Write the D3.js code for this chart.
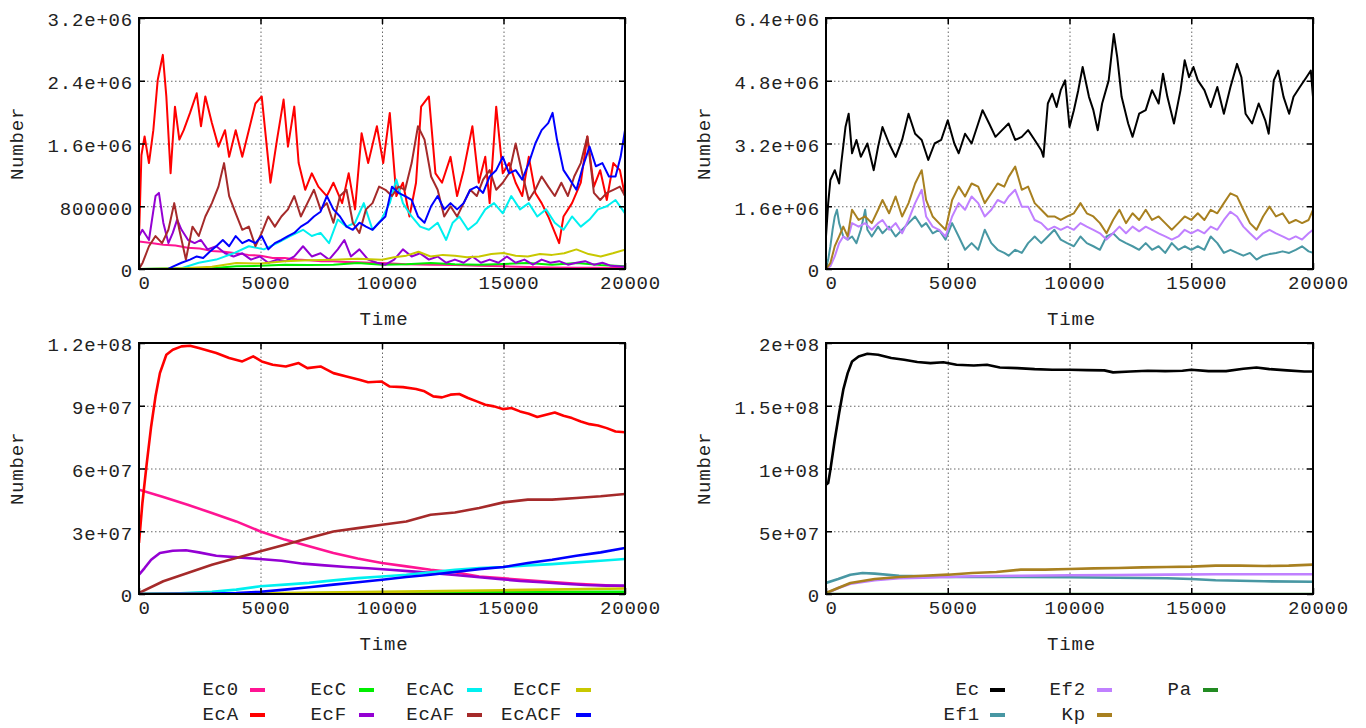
<!DOCTYPE html>
<html><head><meta charset="utf-8">
<script src="https://cdn.jsdelivr.net/npm/d3@7"></script>
<style>
html,body{margin:0;padding:0;background:#fff;}
svg{display:block;}
text{font-family:"Liberation Mono","Courier New",monospace;font-size:19px;fill:#222;letter-spacing:0.8px;}
</style></head><body>
<svg id="c" width="1366" height="728"></svg>
<script>
// ---------- shared axis data ----------
const xTicks = [0, 5000, 10000, 15000, 20000];
const xTickLabels = ["0", "5000", "10000", "15000", "20000"];
const xLabel = "Time";
const yLabel = "Number";

// ---------- tick labels per panel (values in millions) ----------
const tlYTicks = [0, 0.8, 1.6, 2.4, 3.2];
const tlYLabels = ["0", "800000", "1.6e+06", "2.4e+06", "3.2e+06"];
const trYTicks = [0, 1.6, 3.2, 4.8, 6.4];
const trYLabels = ["0", "1.6e+06", "3.2e+06", "4.8e+06", "6.4e+06"];
const blYTicks = [0, 30, 60, 90, 120];
const blYLabels = ["0", "3e+07", "6e+07", "9e+07", "1.2e+08"];
const brYTicks = [0, 50, 100, 150, 200];
const brYLabels = ["0", "5e+07", "1e+08", "1.5e+08", "2e+08"];

// ---------- series names ----------
const ecNames = ["Ec0", "EcA", "EcC", "EcF", "EcAC", "EcAF", "EcCF", "EcACF"];
const spNames = ["Ec", "Ef1", "Ef2", "Kp", "Pa"];

// ---------- top-left panel: [time, number in millions] ----------
const tlEc0 = [[0,0.35],[500,0.33],[1000,0.31],[1500,0.30],[2000,0.27],[2500,0.26],[3000,0.23],[3500,0.22],[4000,0.20],[4500,0.18],[5000,0.17],[5500,0.14],[6000,0.14],[6500,0.12],[7000,0.11],[7500,0.10],[8000,0.098],[8500,0.09],[9000,0.085],[9500,0.08],[10000,0.076],[11000,0.06],[12000,0.055],[13000,0.05],[14000,0.042],[15000,0.035],[16000,0.025],[17000,0.02],[18000,0.017],[19000,0.015],[20000,0.013]];
const tlEcA = [[0,0.40],[100,1.45],[230,1.69],[410,1.35],[590,1.77],[770,2.41],[980,2.73],[1125,2.20],[1300,1.22],[1480,2.07],[1660,1.65],[1840,1.77],[2100,1.99],[2375,2.24],[2550,1.82],[2730,2.20],[3000,1.86],[3270,1.56],[3540,1.77],[3710,1.43],[3980,1.77],[4250,1.43],[4520,1.77],[4790,2.11],[5050,2.20],[5230,1.65],[5410,1.10],[5680,1.65],[5950,2.16],[6130,1.56],[6390,2.07],[6570,1.35],[6840,1.01],[7110,1.22],[7380,1.05],[7730,0.93],[8000,1.10],[8360,0.84],[8630,1.22],[8890,0.76],[9160,1.73],[9430,1.35],[9790,1.82],[10050,1.35],[10320,1.99],[10590,0.93],[10860,1.10],[11130,0.67],[11400,1.10],[11610,2.07],[11930,2.20],[12200,1.22],[12470,1.10],[12820,1.43],[13090,0.93],[13360,1.26],[13720,1.82],[13980,1.10],[14250,1.43],[14430,0.84],[14700,2.07],[14970,1.22],[15230,1.35],[15500,1.10],[15770,0.93],[16040,1.43],[16310,0.97],[16570,0.84],[16840,0.67],[17290,0.33],[17470,0.67],[17820,0.84],[18180,1.10],[18450,1.69],[18720,1.05],[18980,1.26],[19250,0.88],[19520,1.35],[19790,1.26],[20000,0.93]];
const tlEcC = [[0,0],[2000,0.005],[3000,0.01],[4000,0.034],[5000,0.04],[6000,0.055],[7000,0.05],[8000,0.055],[9000,0.076],[10000,0.055],[11000,0.06],[12000,0.076],[13000,0.06],[14000,0.055],[15000,0.065],[16000,0.076],[17000,0.055],[18000,0.076],[19000,0.05],[20000,0.034]];
const tlEcF = [[0,0.42],[140,0.50],[410,0.37],[680,0.93],[820,0.97],[1000,0.59],[1210,0.33],[1390,0.46],[1570,0.63],[1750,0.50],[2020,0.37],[2290,0.33],[2550,0.37],[2820,0.25],[3180,0.29],[3540,0.20],[3890,0.16],[4250,0.20],[4610,0.12],[4970,0.16],[5320,0.08],[5680,0.12],[6040,0.10],[6390,0.16],[6750,0.29],[7110,0.16],[7470,0.20],[7820,0.12],[8180,0.25],[8450,0.37],[8720,0.16],[9070,0.25],[9430,0.12],[9790,0.08],[10140,0.055],[10500,0.12],[10860,0.25],[11220,0.16],[11570,0.20],[11930,0.12],[12290,0.16],[12640,0.08],[13000,0.12],[13360,0.08],[13720,0.16],[14070,0.08],[14430,0.12],[14790,0.08],[15140,0.16],[15500,0.08],[15860,0.12],[16210,0.055],[16570,0.12],[16930,0.08],[17290,0.10],[17650,0.055],[18000,0.08],[18360,0.10],[18720,0.055],[19070,0.08],[19430,0.04],[20000,0.03]];
const tlEcAC = [[0,0],[1750,0.01],[2460,0.08],[3180,0.12],[3890,0.20],[4520,0.29],[5140,0.25],[5680,0.33],[6220,0.42],[6750,0.50],[7110,0.42],[7470,0.46],[7820,0.33],[8180,0.63],[8540,0.54],[8890,0.59],[9250,0.84],[9610,0.50],[9970,0.63],[10320,0.84],[10590,1.14],[10860,0.84],[11220,0.67],[11570,0.54],[11930,0.50],[12290,0.59],[12640,0.37],[12910,0.59],[13180,0.67],[13540,0.50],[13900,0.59],[14250,0.76],[14610,0.84],[14970,0.71],[15320,0.93],[15680,0.76],[16040,0.84],[16390,0.67],[16750,0.76],[17110,0.59],[17470,0.50],[17820,0.67],[18180,0.54],[18540,0.63],[18890,0.76],[19250,0.80],[19610,0.88],[20000,0.71]];
const tlEcAF = [[0,0.0],[150,0.08],[410,0.29],[680,0.42],[950,0.33],[1210,0.50],[1450,0.84],[1660,0.50],[1930,0.12],[2200,0.54],[2460,0.42],[2730,0.67],[3000,0.84],[3270,1.05],[3500,1.35],[3710,0.93],[3980,0.71],[4250,0.50],[4520,0.54],[4790,0.29],[5050,0.46],[5320,0.67],[5590,0.54],[5860,0.67],[6130,0.76],[6390,0.93],[6660,0.67],[6930,0.84],[7200,1.01],[7470,0.76],[7730,0.84],[8000,0.59],[8270,0.93],[8540,1.01],[8800,0.59],[9070,0.46],[9340,0.76],[9610,0.84],[9880,1.05],[10140,1.01],[10410,0.93],[10680,1.05],[10950,1.01],[11220,1.35],[11480,1.82],[11750,1.65],[12020,1.18],[12290,1.01],[12560,0.67],[12820,0.80],[13090,0.67],[13360,0.84],[13630,1.01],[13900,0.93],[14160,1.14],[14430,1.26],[14700,1.01],[14970,1.10],[15230,1.22],[15500,1.60],[15770,1.22],[16040,0.88],[16310,1.01],[16570,1.18],[16840,1.05],[17110,0.93],[17380,1.10],[17650,0.93],[17910,1.18],[18180,1.35],[18450,1.69],[18720,0.97],[18980,0.88],[19250,0.97],[19520,1.01],[19790,1.05],[20000,0.93]];
const tlEcCF = [[0,0],[1000,0.005],[2000,0.013],[3000,0.03],[4000,0.076],[5000,0.07],[6000,0.098],[7000,0.11],[8000,0.119],[9000,0.13],[10000,0.119],[10500,0.15],[11000,0.17],[11500,0.22],[12000,0.16],[12500,0.18],[13000,0.17],[13500,0.15],[14000,0.16],[14500,0.19],[15000,0.204],[15500,0.17],[16000,0.16],[16500,0.19],[17000,0.18],[17500,0.20],[18000,0.25],[18500,0.19],[19000,0.16],[19500,0.20],[20000,0.246]];
const tlEcACF = [[0,0],[1200,0],[1390,0.03],[1750,0.08],[2100,0.12],[2375,0.16],[2640,0.14],[2910,0.22],[3180,0.29],[3450,0.37],[3710,0.29],[3980,0.42],[4250,0.33],[4520,0.37],[4790,0.33],[5050,0.42],[5320,0.25],[5590,0.33],[5860,0.37],[6130,0.42],[6390,0.46],[6660,0.54],[6930,0.59],[7200,0.67],[7470,0.73],[7730,0.93],[8000,0.76],[8270,0.67],[8540,0.54],[8800,0.50],[9070,0.59],[9340,0.54],[9610,0.50],[9880,0.59],[10140,0.67],[10410,1.05],[10680,0.97],[10950,0.93],[11220,0.88],[11480,0.67],[11750,0.59],[12020,0.80],[12290,0.93],[12560,0.76],[12820,0.84],[13090,0.76],[13360,0.84],[13630,1.01],[13900,1.05],[14160,0.97],[14430,1.18],[14700,1.26],[14970,1.43],[15230,1.22],[15500,1.26],[15770,1.14],[16040,1.35],[16310,1.60],[16570,1.77],[16840,1.86],[17020,1.99],[17200,1.65],[17470,1.26],[17730,1.14],[18000,1.01],[18270,1.31],[18540,1.56],[18800,1.31],[19070,1.35],[19340,1.18],[19610,1.18],[19820,1.43],[20000,1.77]];

// ---------- top-right panel ----------
const trEc = [[0,0.83],[90,1.68],[180,2.27],[360,2.52],[540,2.18],[625,2.69],[800,3.62],[930,3.96],[1070,2.95],[1250,3.29],[1430,2.86],[1700,3.20],[1960,2.52],[2140,3.12],[2320,3.62],[2590,3.20],[2860,2.86],[3125,3.29],[3390,3.96],[3660,3.45],[3930,3.29],[4200,2.78],[4460,3.20],[4730,3.29],[5000,3.79],[5270,3.20],[5450,2.95],[5710,3.45],[5980,3.20],[6250,3.71],[6430,4.05],[6700,3.71],[6960,3.37],[7230,3.54],[7500,3.71],[7770,3.29],[8040,3.37],[8300,3.54],[8570,3.29],[8840,3.03],[8930,2.86],[9110,4.22],[9290,4.47],[9470,4.13],[9640,4.56],[9820,4.81],[10000,3.62],[10180,4.05],[10360,4.56],[10540,5.15],[10800,4.39],[10980,4.05],[11160,3.54],[11340,4.22],[11610,4.81],[11820,5.99],[11960,5.40],[12140,4.39],[12410,3.71],[12590,3.37],[12860,3.96],[13130,4.05],[13390,4.56],[13660,4.22],[13840,4.98],[14020,4.39],[14290,3.71],[14560,4.56],[14730,5.32],[14910,4.89],[15090,5.15],[15270,4.81],[15540,4.56],[15800,4.13],[16070,4.64],[16340,3.96],[16610,4.64],[16880,5.23],[17060,4.89],[17230,3.96],[17500,3.71],[17770,4.22],[18040,3.79],[18180,3.45],[18390,4.81],[18570,5.06],[18790,4.39],[19020,3.96],[19200,4.39],[19460,4.64],[19730,4.89],[19910,5.06],[20000,4.39]];
const trEf1 = [[0,0],[90,0.24],[180,0.58],[270,1.00],[360,1.34],[450,1.51],[540,1.17],[710,0.83],[890,0.75],[1070,0.83],[1250,0.66],[1430,1.00],[1610,1.51],[1700,1.00],[1880,0.83],[2140,1.08],[2320,0.91],[2590,1.08],[2860,0.83],[3125,1.00],[3390,1.17],[3660,1.34],[3930,1.08],[4110,1.17],[4380,0.91],[4640,1.00],[4910,0.75],[5180,1.17],[5450,0.83],[5710,0.49],[5980,0.66],[6250,0.49],[6520,1.00],[6790,0.66],[7050,0.49],[7320,0.41],[7500,0.34],[7770,0.49],[8040,0.41],[8300,0.66],[8570,0.83],[8840,0.66],[9110,0.83],[9380,1.00],[9640,0.75],[9910,0.66],[10180,0.58],[10450,0.83],[10710,0.66],[10980,0.58],[11250,0.49],[11520,0.83],[11790,0.91],[12050,0.75],[12320,0.66],[12590,0.58],[12860,0.49],[13130,0.66],[13390,0.49],[13660,0.58],[13930,0.41],[14200,0.66],[14470,0.49],[14730,0.58],[15000,0.49],[15270,0.58],[15540,0.49],[15800,0.83],[16070,0.66],[16340,0.41],[16610,0.49],[16880,0.41],[17140,0.34],[17410,0.41],[17680,0.24],[17950,0.34],[18210,0.38],[18480,0.41],[18750,0.45],[19020,0.41],[19290,0.49],[19550,0.58],[19820,0.45],[20000,0.41]];
const trEf2 = [[0,0],[180,0.07],[360,0.32],[540,0.66],[710,0.83],[890,0.75],[1070,1.17],[1340,1.08],[1610,1.17],[1880,1.00],[2140,1.17],[2320,1.25],[2590,1.00],[2860,1.17],[3125,0.91],[3390,1.25],[3660,1.68],[3930,2.02],[4110,1.34],[4380,1.08],[4640,1.00],[4910,0.83],[5180,1.34],[5450,1.68],[5710,1.51],[5980,1.85],[6250,1.68],[6520,1.34],[6790,1.51],[7050,1.76],[7320,1.68],[7500,1.85],[7770,2.02],[8040,1.59],[8300,1.59],[8570,1.25],[8840,1.17],[9110,1.00],[9380,1.08],[9640,1.00],[9910,1.08],[10180,1.00],[10450,1.17],[10710,1.08],[10980,1.00],[11250,0.91],[11520,0.75],[11790,0.91],[12050,1.08],[12320,0.91],[12590,1.08],[12860,0.96],[13130,1.08],[13390,1.00],[13660,0.91],[13930,0.83],[14200,0.75],[14470,0.83],[14730,1.00],[15000,0.91],[15270,1.00],[15540,0.91],[15800,1.08],[16070,1.00],[16340,1.25],[16610,1.46],[16880,1.34],[17140,1.08],[17410,0.91],[17680,0.75],[17950,0.91],[18210,1.00],[18480,0.91],[18750,0.83],[19020,0.75],[19290,0.83],[19550,0.75],[19820,0.91],[20000,1.00]];
const trKp = [[0,0],[180,0.15],[360,0.58],[540,0.83],[710,1.08],[890,0.83],[1070,1.51],[1340,1.25],[1610,1.34],[1880,1.17],[2140,1.51],[2320,1.76],[2590,1.42],[2860,1.85],[3125,1.34],[3390,1.68],[3660,2.18],[3930,2.52],[4110,1.76],[4380,1.34],[4640,1.17],[4910,1.00],[5180,1.76],[5450,2.10],[5710,1.85],[5980,2.18],[6250,2.10],[6520,1.68],[6790,1.93],[7050,2.18],[7320,2.10],[7500,2.35],[7770,2.61],[8040,2.02],[8300,2.10],[8570,1.68],[8840,1.51],[9110,1.34],[9380,1.34],[9640,1.25],[9910,1.34],[10180,1.42],[10450,1.68],[10710,1.42],[10980,1.34],[11250,1.17],[11520,0.91],[11790,1.25],[12050,1.51],[12320,1.17],[12590,1.42],[12860,1.25],[13130,1.51],[13390,1.25],[13660,1.34],[13930,1.17],[14200,1.00],[14470,1.17],[14730,1.34],[15000,1.25],[15270,1.42],[15540,1.25],[15800,1.51],[16070,1.42],[16340,1.68],[16610,1.93],[16880,1.85],[17140,1.51],[17410,1.17],[17680,1.00],[17950,1.34],[18210,1.59],[18480,1.34],[18750,1.42],[19020,1.17],[19290,1.25],[19550,1.17],[19820,1.25],[20000,1.51]];
const trPa = [[0,0],[20000,0]];

// ---------- bottom-left panel ----------
const blEc0 = [[0,49.9],[1000,46.4],[2000,42.7],[3000,38.7],[4000,34.7],[5000,29.9],[6000,26.0],[7000,22.8],[8000,19.6],[9000,17.0],[10000,14.8],[11000,13.2],[12000,11.6],[13000,10.4],[14000,8.4],[15000,7.5],[16000,6.5],[17000,5.7],[18000,4.9],[19000,4.3],[20000,3.7]];
const blEcA = [[0,24.4],[140,43.5],[320,62.6],[500,80.1],[680,94.5],[860,105.6],[1125,114.4],[1390,116.8],[1750,118.4],[2100,118.7],[2460,117.6],[3180,115.2],[3710,112.8],[4250,111.2],[4700,113.6],[5050,111.2],[5500,109.6],[6040,108.8],[6570,110.4],[6930,108.0],[7470,108.8],[8000,105.6],[8540,104.0],[9070,102.4],[9430,101.2],[9970,101.6],[10320,99.2],[10860,98.9],[11400,98.0],[11750,96.9],[12110,94.5],[12470,94.0],[12820,95.3],[13180,95.6],[13540,93.7],[13900,92.1],[14250,90.5],[14610,89.7],[14970,88.4],[15320,88.9],[15680,87.3],[16040,86.2],[16390,84.6],[16750,85.7],[17110,86.8],[17470,85.2],[17820,84.1],[18180,82.5],[18540,81.2],[18890,80.6],[19250,79.3],[19610,77.7],[20000,77.3]];
const blEcC = [[0,0],[5000,0.2],[10000,0.6],[15000,0.9],[20000,1.1]];
const blEcF = [[0,9.2],[230,12.4],[500,16.4],[860,19.6],[1390,20.7],[1930,20.9],[2460,19.9],[3180,18.3],[4070,17.5],[4970,16.7],[5860,15.9],[6750,14.5],[7640,13.7],[8540,12.9],[9430,12.3],[10320,11.6],[11220,10.8],[12110,10.0],[13000,9.1],[13900,8.1],[14790,7.2],[15680,6.2],[16570,5.6],[17470,4.9],[18360,4.3],[19250,4.0],[20000,4.0]];
const blEcAC = [[0,0],[1500,0.16],[3000,1.1],[4000,2.1],[5000,3.7],[6000,4.5],[7000,5.3],[8000,6.5],[9000,7.6],[10000,8.4],[11000,9.2],[12000,10.4],[13000,11.6],[14000,12.4],[15000,12.9],[16000,13.7],[17000,14.3],[18000,15.1],[19000,15.9],[20000,16.7]];
const blEcAF = [[0,0.5],[1000,6.1],[2000,10.0],[3000,14.0],[4000,17.2],[5000,20.4],[6000,23.6],[7000,26.8],[8000,29.9],[9000,31.5],[10000,33.1],[11000,34.7],[12000,37.9],[13000,39.0],[14000,41.1],[15000,43.8],[16000,45.1],[17000,45.1],[18000,45.9],[19000,46.7],[20000,47.8]];
const blEcCF = [[0,0],[5000,0.3],[10000,1.0],[15000,1.8],[20000,2.6]];
const blEcACF = [[0,0],[3000,0.16],[4000,0.5],[5000,1.1],[6000,2.1],[7000,3.2],[8000,4.5],[9000,5.6],[10000,6.8],[11000,8.1],[12000,9.2],[13000,10.5],[14000,11.9],[15000,12.9],[16000,14.8],[17000,16.4],[18000,18.3],[19000,19.9],[20000,22.0]];

// ---------- bottom-right panel ----------
const brEc = [[0,87.1],[90,88.4],[180,99.0],[360,122.9],[540,144.2],[710,162.8],[890,176.0],[1070,185.3],[1340,189.3],[1700,191.4],[2140,190.6],[2680,188.0],[3210,186.6],[3750,184.8],[4290,184.0],[4820,184.6],[5360,182.7],[6070,182.1],[6610,182.7],[7140,180.5],[7860,180.0],[8570,179.2],[9290,178.7],[10000,178.7],[10710,178.4],[11430,178.2],[11790,176.6],[12500,177.3],[13210,177.9],[13930,177.6],[14640,177.9],[15000,178.7],[15710,177.6],[16430,177.6],[17140,179.5],[17680,180.5],[18210,179.2],[18930,178.2],[19640,177.3],[20000,177.3]];
const brEf1 = [[0,8.8],[500,11.9],[1000,15.4],[1500,16.7],[2000,16.2],[3000,14.6],[4000,14.1],[5000,13.5],[6000,13.5],[8000,13.5],[10000,13.3],[12000,13.0],[14000,12.5],[15000,11.9],[16000,10.9],[18000,10.1],[20000,9.8]];
const brEf2 = [[0,0.3],[500,4.8],[1000,8.2],[2000,10.9],[3000,12.5],[4000,13.0],[5000,13.5],[6000,14.1],[8000,14.6],[10000,14.9],[12000,15.1],[14000,15.4],[16000,15.7],[18000,15.7],[20000,15.7]];
const brKp = [[0,0.8],[500,4.8],[1000,8.8],[2000,11.9],[3000,13.5],[4000,14.6],[5000,15.4],[6000,16.7],[7000,17.5],[8000,19.4],[9000,19.4],[10000,19.9],[11000,20.4],[12000,20.7],[13000,21.2],[14000,21.5],[15000,21.8],[16000,22.6],[17000,22.6],[18000,22.3],[19000,22.6],[20000,23.4]];
const brPa = [[0,0],[20000,0]];

// ---------- styles ----------
const ecColors = ["#ff1493", "#ff0000", "#00ee00", "#9400d3", "#00f0f0", "#a52a2a", "#c8c800", "#0000ff"];
const spColors = ["#000000", "#4897a3", "#c080ff", "#a88020", "#228b22"];

const svg = d3.select("#c");

const panels = [
  {x0:139, x1:625, y0:18, y1:269, ymax:3.2, yt:tlYTicks, yl:tlYLabels, series:[tlEc0,tlEcA,tlEcC,tlEcF,tlEcAC,tlEcAF,tlEcCF,tlEcACF], colors:ecColors, sw:2, labX:18},
  {x0:826, x1:1313, y0:18, y1:269, ymax:6.4, yt:trYTicks, yl:trYLabels, series:[trEc,trEf1,trEf2,trKp,trPa], colors:spColors, sw:2, labX:705},
  {x0:139, x1:625, y0:343, y1:594, ymax:120, yt:blYTicks, yl:blYLabels, series:[blEc0,blEcA,blEcC,blEcF,blEcAC,blEcAF,blEcCF,blEcACF], colors:ecColors, sw:2.6, labX:18},
  {x0:826, x1:1313, y0:343, y1:594, ymax:200, yt:brYTicks, yl:brYLabels, series:[brEc,brEf1,brEf2,brKp,brPa], colors:spColors, sw:2.6, labX:705}
];

panels.forEach((p, pi) => {
  const x = d3.scaleLinear().domain([0, 20000]).range([p.x0, p.x1]);
  const y = d3.scaleLinear().domain([0, p.ymax]).range([p.y1, p.y0]);
  const w = p.x1 - p.x0, h = p.y1 - p.y0;
  const g = svg.append("g");

  // grid
  g.append("g").attr("transform", `translate(0,${p.y1})`)
    .call(d3.axisBottom(x).tickValues(xTicks.slice(1, -1)).tickSize(-h).tickFormat(""))
    .call(s => { s.select(".domain").remove(); s.selectAll("line").attr("stroke", "#666").attr("stroke-width", 1).attr("stroke-dasharray", "1.5,2.5"); });
  g.append("g").attr("transform", `translate(${p.x0},0)`)
    .call(d3.axisLeft(y).tickValues(p.yt.slice(1, -1)).tickSize(-w).tickFormat(""))
    .call(s => { s.select(".domain").remove(); s.selectAll("line").attr("stroke", "#666").attr("stroke-width", 1).attr("stroke-dasharray", "1.5,2.5"); });

  // clip
  const cid = "clip" + pi;
  svg.append("clipPath").attr("id", cid).append("rect")
    .attr("x", p.x0).attr("y", p.y0).attr("width", w).attr("height", h);

  const line = d3.line().x(d => x(d[0])).y(d => y(d[1]));
  const lg = g.append("g").attr("clip-path", `url(#${cid})`);
  p.series.forEach((s, i) => {
    lg.append("path").datum(s).attr("d", line)
      .attr("fill", "none").attr("stroke", p.colors[i])
      .attr("stroke-width", p.sw).attr("stroke-linejoin", "round");
  });

  // axes with inward ticks
  const axL = g.append("g").attr("transform", `translate(${p.x0},0)`)
    .call(d3.axisLeft(y).tickValues(p.yt).tickFormat((d, i) => p.yl[i]).tickSize(-6).tickPadding(6));
  axL.select(".domain").remove();
  axL.selectAll("text").attr("dy", "0.42em");
  axL.selectAll("line").attr("stroke", "#000").attr("stroke-width", 1.5);

  const axR = g.append("g").attr("transform", `translate(${p.x1},0)`)
    .call(d3.axisRight(y).tickValues(p.yt).tickFormat("").tickSize(-6));
  axR.select(".domain").remove();
  axR.selectAll("line").attr("stroke", "#000").attr("stroke-width", 1.5);

  const axB = g.append("g").attr("transform", `translate(0,${p.y1})`)
    .call(d3.axisBottom(x).tickValues(xTicks).tickFormat((d, i) => xTickLabels[i]).tickSize(-6).tickPadding(7));
  axB.select(".domain").remove();
  axB.selectAll("text").attr("dx", 5);
  axB.selectAll("line").attr("stroke", "#000").attr("stroke-width", 1.5);

  const axT = g.append("g").attr("transform", `translate(0,${p.y0})`)
    .call(d3.axisTop(x).tickValues(xTicks).tickFormat("").tickSize(-6));
  axT.select(".domain").remove();
  axT.selectAll("line").attr("stroke", "#000").attr("stroke-width", 1.5);

  // frame
  g.append("rect").attr("x", p.x0).attr("y", p.y0).attr("width", w).attr("height", h)
    .attr("fill", "none").attr("stroke", "#000").attr("stroke-width", 2);

  // axis titles
  g.append("text").attr("x", (p.x0 + p.x1) / 2 + 2).attr("y", p.y1 + 51)
    .attr("text-anchor", "middle").attr("dominant-baseline", "central").text(xLabel);
  g.append("text").attr("transform", `translate(${p.labX},${(p.y0 + p.y1) / 2}) rotate(-90)`)
    .attr("text-anchor", "middle").attr("dominant-baseline", "central").text(yLabel);
});

// ---------- legends ----------
function legend(names, colors, textEnds, sampleStarts, rows, perCol) {
  const lg = svg.append("g");
  names.forEach((n, i) => {
    const col = Math.floor(i / perCol), row = i % perCol;
    const yy = rows[row];
    lg.append("text").attr("x", textEnds[col]).attr("y", yy)
      .attr("text-anchor", "end").attr("dominant-baseline", "central").text(n);
    lg.append("line").attr("x1", sampleStarts[col]).attr("x2", sampleStarts[col] + 15)
      .attr("y1", yy).attr("y2", yy).attr("stroke", colors[i]).attr("stroke-width", 4);
  });
}
legend(ecNames, ecColors, [239, 347, 455, 562], [250, 359, 467, 576], [690, 715], 2);
legend(spNames, spColors, [980, 1086, 1192], [990, 1097, 1203], [690, 715], 2);
</script>
</body></html>
